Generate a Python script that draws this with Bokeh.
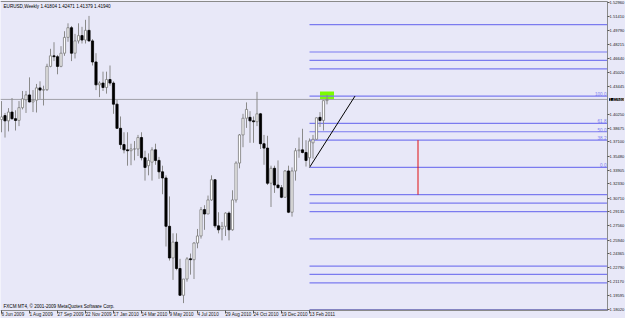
from bokeh.plotting import figure
from bokeh.models import Range1d, LinearAxis, FixedTicker, Label, ColumnDataSource, CustomJSTickFormatter
from bokeh.core.properties import value
from bokeh.embed import file_html
from bokeh.resources import INLINE

# ---------------- data ----------------
header = "EURUSD,Weekly  1.41804 1.42471 1.41379 1.41940"
copyright_text = "FXCM MT4, \u00a9 2001-2009 MetaQuotes Software Corp."

opens = [1.3965, 1.4010, 1.3950, 1.4050, 1.3975, 1.3955, 1.4100, 1.4190, 1.4245, 1.4165,
         1.4185, 1.4325, 1.4300, 1.4305, 1.4570, 1.4690, 1.4680, 1.4570, 1.4720, 1.4900,
         1.5010, 1.4720, 1.4860, 1.4920, 1.4870, 1.4980, 1.4860, 1.4620, 1.4360, 1.4380,
         1.4330, 1.4420, 1.4380, 1.4140, 1.3865, 1.3680, 1.3620, 1.3610, 1.3630, 1.3630,
         1.3760, 1.3530, 1.3440, 1.3480, 1.3620, 1.3500, 1.3370, 1.3300, 1.2750, 1.2390,
         1.2570, 1.2270, 1.1965, 1.2150, 1.2380, 1.2370, 1.2560, 1.2640, 1.2940, 1.2890,
         1.3050, 1.3280, 1.2755, 1.2720, 1.2750, 1.2900, 1.2710, 1.3050, 1.3470, 1.3790,
         1.3980, 1.3990, 1.3950, 1.3940, 1.4030, 1.3690, 1.3640, 1.3240, 1.3410, 1.3220,
         1.3190, 1.3080, 1.3380, 1.2910, 1.3380, 1.3610, 1.3620, 1.3590, 1.3530, 1.3700,
         1.3740, 1.3990, 1.3955, 1.41804]
highs = [1.4175, 1.4040, 1.4095, 1.4210, 1.4070, 1.4175, 1.4290, 1.4290, 1.4445, 1.4300,
         1.4370, 1.4400, 1.4350, 1.4600, 1.4770, 1.4845, 1.4700, 1.4800, 1.4970, 1.5060,
         1.5030, 1.4940, 1.5060, 1.5020, 1.5100, 1.5144, 1.4880, 1.4720, 1.4400, 1.4510,
         1.4510, 1.4580, 1.4400, 1.4190, 1.4000, 1.3820, 1.3820, 1.3690, 1.3720, 1.3790,
         1.3820, 1.3610, 1.3580, 1.3650, 1.3690, 1.3540, 1.3440, 1.3330, 1.3090, 1.2670,
         1.2670, 1.2380, 1.2110, 1.2400, 1.2440, 1.2570, 1.2720, 1.2970, 1.2990, 1.3100,
         1.3330, 1.3280, 1.2910, 1.2800, 1.2910, 1.2920, 1.3160, 1.3490, 1.3800, 1.4030,
         1.4160, 1.4060, 1.4000, 1.4280, 1.4040, 1.3790, 1.3780, 1.3440, 1.3440, 1.3500,
         1.3220, 1.3390, 1.3440, 1.3420, 1.3640, 1.3760, 1.3860, 1.3730, 1.3750, 1.3790,
         1.3990, 1.4050, 1.4180, 1.42471]
lows = [1.3820, 1.3760, 1.3830, 1.3960, 1.3840, 1.3890, 1.4080, 1.4040, 1.4160, 1.4050,
        1.4045, 1.4200, 1.4125, 1.4290, 1.4560, 1.4630, 1.4480, 1.4560, 1.4690, 1.4850,
        1.4630, 1.4660, 1.4830, 1.4830, 1.4830, 1.4850, 1.4580, 1.4300, 1.4220, 1.4290,
        1.4260, 1.4350, 1.4030, 1.3860, 1.3630, 1.3580, 1.3440, 1.3445, 1.3500, 1.3550,
        1.3500, 1.3270, 1.3330, 1.3270, 1.3450, 1.3290, 1.3115, 1.2520, 1.2360, 1.2140,
        1.2250, 1.1960, 1.1876, 1.2120, 1.2200, 1.2150, 1.2500, 1.2610, 1.2710, 1.2890,
        1.3040, 1.2730, 1.2670, 1.2590, 1.2640, 1.2590, 1.2700, 1.3020, 1.3410, 1.3650,
        1.3870, 1.3700, 1.3700, 1.3890, 1.3630, 1.3450, 1.3220, 1.2970, 1.3130, 1.3180,
        1.3070, 1.3080, 1.2900, 1.2860, 1.3270, 1.3530, 1.3580, 1.3430, 1.3420, 1.3520,
        1.3740, 1.3880, 1.3840, 1.41379]
closes = [1.3995, 1.3950, 1.4050, 1.3975, 1.3955, 1.4100, 1.4200, 1.4245, 1.4165, 1.4185,
          1.4325, 1.4300, 1.4305, 1.4570, 1.4690, 1.4680, 1.4570, 1.4720, 1.4900, 1.5010,
          1.4720, 1.4860, 1.4920, 1.4870, 1.4980, 1.4860, 1.4620, 1.4360, 1.4380, 1.4330,
          1.4420, 1.4380, 1.4140, 1.3865, 1.3680, 1.3620, 1.3610, 1.3630, 1.3630, 1.3760,
          1.3530, 1.3420, 1.3500, 1.3620, 1.3500, 1.3370, 1.3300, 1.2750, 1.2390, 1.2570,
          1.2270, 1.1965, 1.2150, 1.2380, 1.2370, 1.2560, 1.2640, 1.2940, 1.2890, 1.3050,
          1.3280, 1.2755, 1.2710, 1.2750, 1.2900, 1.2710, 1.3050, 1.3470, 1.3790, 1.3980,
          1.4080, 1.3950, 1.3940, 1.4030, 1.3690, 1.3640, 1.3240, 1.3410, 1.3220, 1.3190,
          1.3080, 1.3380, 1.2910, 1.3380, 1.3610, 1.3620, 1.3590, 1.3500, 1.3720, 1.3740,
          1.3985, 1.3955, 1.4180, 1.41940]

date_labels = ["6 Jun 2009", "1 Aug 2009", "27 Sep 2009", "22 Nov 2009", "17 Jan 2010",
               "14 Mar 2010", "9 May 2010", "4 Jul 2010", "29 Aug 2010", "24 Oct 2010",
               "19 Dec 2010", "13 Feb 2011"]
date_label_bars = [0, 8, 16, 24, 32, 40, 48, 56, 64, 72, 80, 88]

price_ticks = [1.52960, 1.51410, 1.49790, 1.48215, 1.46640, 1.45020, 1.43445, 1.40250,
               1.38675, 1.37100, 1.35480, 1.33905, 1.32330, 1.30710, 1.29135, 1.27560,
               1.25940, 1.24365, 1.22790, 1.21170, 1.19595, 1.18020]
current_price = 1.41940

fib_low = 1.3420
fib_high = 1.4232
fib_start_bar = 88
fib_end_bar = 101
fib_levels = [200.0, 161.8, 150.0, 138.2, 100.0, 61.8, 50.0, 38.2, 0.0,
              -38.2, -50.0, -61.8, -100.0, -138.2, -150.0, -161.8, -200.0]
fib_shown_labels = ["100.0", "61.8", "50.0", "38.2", "0.0"]

red_line_bar = 119
red_line_from_level = 38.2
red_line_to_level = -38.2

box_bars = (91.0, 95.0)
box_prices = (1.4193, 1.4285)

# ---------------- layout constants (pixels of the 625x318 window) ----------------
BAR_PX = 3.5          # pixels per weekly bar
BAR0_PX = 1.0         # pixel x of bar 0
PRICE_PER_PX = 0.001138
REF_PRICE, REF_PX = 1.5141, 15.7
W, H = 625, 318
AXIS_X_PX = 607       # right price scale line
AXIS_Y_PX = 310       # bottom time scale line
TOP_PX = 1


def bar_at(px):
    return (px - BAR0_PX) / BAR_PX


def price_at(py):
    return REF_PRICE - (py - REF_PX) * PRICE_PER_PX


x_start, x_stop = bar_at(0), bar_at(W)
y_bottom, y_top = price_at(H), price_at(0)
x_axis_loc = bar_at(AXIS_X_PX)
y_axis_loc = price_at(AXIS_Y_PX)
y_frame_top = price_at(TOP_PX)

BG = "#e8e8f8"
FIBC = "#7b7bef"
GRAYL = "#8a8a8a"
FONT = "Liberation Sans"
FS = "4.6px"
FS_PRICE = "4.1px"

p = figure(width=W, height=H, output_backend="svg", toolbar_location=None,
           x_range=Range1d(x_start, x_stop), y_range=Range1d(y_bottom, y_top),
           x_axis_location=None, y_axis_location=None,
           min_border=0,
           background_fill_color=BG, border_fill_color=BG)
p.grid.visible = False
p.outline_line_color = None

# right price axis (fixed at the chart's right edge)
ya = LinearAxis(ticker=FixedTicker(ticks=price_ticks),
                formatter=CustomJSTickFormatter(code="return tick.toFixed(5);"),
                fixed_location=x_axis_loc, bounds=(y_axis_loc, y_frame_top))
ya.axis_line_color = GRAYL
ya.major_tick_line_color = "#555555"
ya.major_tick_out = 2
ya.major_tick_in = 0
ya.minor_tick_out = 0
ya.minor_tick_in = 0
ya.minor_tick_line_color = None
ya.major_label_standoff = 0
ya.major_label_text_font = FONT
ya.major_label_text_font_size = FS_PRICE
ya.major_label_text_color = "#222222"
p.add_layout(ya, "right")

# bottom date axis (labels start at their tick, as in MT4)
xa = LinearAxis(ticker=FixedTicker(ticks=date_label_bars),
                major_label_overrides={b: t for b, t in zip(date_label_bars, date_labels)},
                fixed_location=y_axis_loc, bounds=(x_start, x_axis_loc))
xa.axis_line_color = GRAYL
xa.major_tick_line_color = "#555555"
xa.major_tick_out = 3
xa.major_tick_in = 0
xa.minor_tick_out = 0
xa.minor_tick_in = 0
xa.minor_tick_line_color = None
xa.major_label_standoff = 1
xa.major_label_orientation = -1e-6
xa.major_label_text_font = FONT
xa.major_label_text_font_size = FS
xa.major_label_text_color = "#222222"
p.add_layout(xa, "below")

# top border of the chart area
p.line([x_start, x_axis_loc], [y_frame_top, y_frame_top], line_color=GRAYL, line_width=1)

# green rectangle (behind candles)
p.quad(left=[box_bars[0]], right=[box_bars[1]], bottom=[box_prices[0]], top=[box_prices[1]],
       fill_color="#7cfc00", line_color=None)

# current price line
p.line([x_start, x_axis_loc], [current_price, current_price], line_color="#a0a0a8", line_width=1)

# fibonacci levels
fib_prices = [fib_low + lv / 100.0 * (fib_high - fib_low) for lv in fib_levels]
fib_colors = ["#20208c" if lv == -200.0 else FIBC for lv in fib_levels]
p.segment(x0=[fib_start_bar] * len(fib_levels), x1=[x_axis_loc] * len(fib_levels),
          y0=fib_prices, y1=fib_prices, line_color=fib_colors, line_width=1.2)
lab_prices = [fib_low + float(t) / 100.0 * (fib_high - fib_low) for t in fib_shown_labels]
p.text(x=[x_axis_loc - 0.3] * len(lab_prices), y=lab_prices, text=fib_shown_labels,
       text_align="right", text_baseline="bottom", text_color=FIBC,
       text_font=value(FONT), text_font_size=FS)
# fibo trend line
p.line([fib_start_bar, fib_end_bar], [fib_low, fib_high], line_color="black", line_width=1)

# red vertical line
rl0 = fib_low + red_line_from_level / 100.0 * (fib_high - fib_low)
rl1 = fib_low + red_line_to_level / 100.0 * (fib_high - fib_low)
p.segment(x0=[red_line_bar], x1=[red_line_bar], y0=[rl0], y1=[rl1], line_color="#e01010", line_width=1)

# candles
n = len(opens)
idx = list(range(n))
bull = [c >= o for o, c in zip(opens, closes)]
src = ColumnDataSource(dict(
    x=idx, o=opens, h=highs, l=lows, c=closes,
    top=[max(o, c) for o, c in zip(opens, closes)],
    bot=[min(o, c) for o, c in zip(opens, closes)],
    fill=["white" if b else "black" for b in bull],
    edge=["#7a7a7a" if b else "black" for b in bull],
))
p.segment(x0="x", x1="x", y0="h", y1="l", line_color=GRAYL, line_width=1, source=src)
p.vbar(x="x", top="top", bottom="bot", width=0.62, fill_color="fill", line_color="edge",
       line_width=0.8, source=src)

# texts
p.add_layout(Label(x=3, y=H - 6, x_units="screen", y_units="screen", text=header,
                   text_font=FONT, text_font_size=FS, text_color="black",
                   text_baseline="middle"))
p.add_layout(Label(x=3, y=H - 306, x_units="screen", y_units="screen", text=copyright_text,
                   text_font=FONT, text_font_size=FS, text_color="black",
                   text_baseline="middle"))
p.add_layout(Label(x=x_axis_loc, y=current_price, x_offset=1.5, text=f"{current_price:.5f}",
                   text_font=FONT, text_font_size=FS_PRICE, text_color="white",
                   text_baseline="middle", background_fill_color="black",
                   padding=0, level="overlay"))

open("out.html", "w").write(file_html(p, INLINE))
